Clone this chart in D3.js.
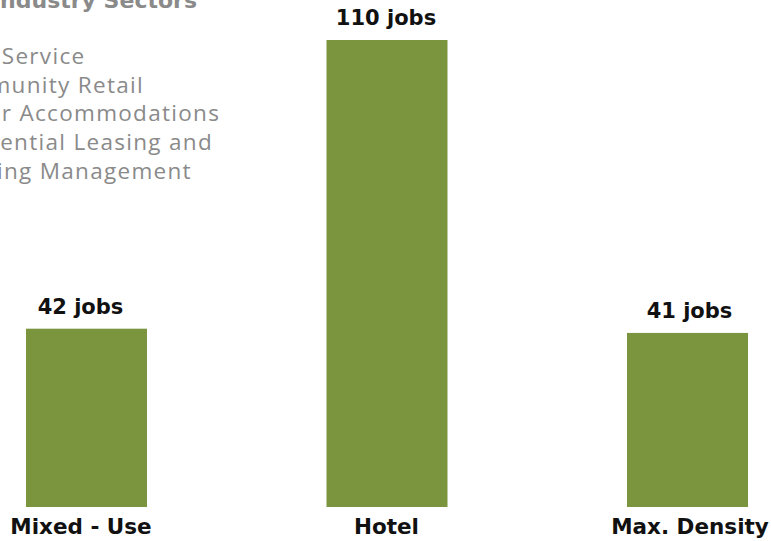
<!DOCTYPE html>
<html>
<head>
<meta charset="utf-8">
<script src="https://cdn.jsdelivr.net/npm/d3@7"></script>
<style>
  html, body { margin: 0; padding: 0; background: #fff; }
  svg { display: block; }
</style>
</head>
<body>
<script>
// Jobs supported per development scenario
const categories = ["Mixed - Use", "Hotel", "Max. Density"];
const jobs = [42, 110, 41];
const valueLabels = ["42 jobs", "110 jobs", "41 jobs"];

// Industry sectors list shown in the upper left
const sectorTitle = "Key Industry Sectors";
const sectors = [
  "Food Service",
  "Community Retail",
  "Visitor Accommodations",
  "Residential Leasing and",
  "Building Management"
];

const W = 771, H = 541;
const svg = d3.select("body").append("svg")
  .attr("width", W).attr("height", H);

const x = d3.scalePoint().domain(categories).range([86.5, 687.5]);
const y = d3.scaleLinear().domain([0, 110]).range([507, 40]);
const barW = 121;
const green = "#7a953d";
const boldFont = "'DejaVu Sans', sans-serif";
const textFont = "'Open Sans', sans-serif";
const labelShift = [-6, -1, 2];

// Sector list, partly running off the left edge
const legendX = -63;
const legend = svg.append("g").attr("transform", `translate(${legendX},0)`);
legend.append("text")
  .attr("x", 197 - legendX).attr("y", 8)
  .attr("text-anchor", "end")
  .attr("font-family", boldFont).attr("font-weight", "bold")
  .attr("font-size", 22).attr("fill", "#8a8a8a")
  .text(sectorTitle);
legend.selectAll("text.sector").data(sectors).join("text")
  .attr("class", "sector")
  .attr("x", 0)
  .attr("y", (d, i) => 64 + i * 28.7)
  .attr("font-family", textFont)
  .attr("font-size", 22.5).attr("letter-spacing", 1.3)
  .attr("fill", "#8a8a8a")
  .text(d => d);

// Bars
const data = categories.map((c, i) => ({ c, v: jobs[i], label: valueLabels[i] }));
svg.selectAll("rect.bar").data(data).join("rect")
  .attr("class", "bar")
  .attr("x", d => x(d.c) - barW / 2)
  .attr("y", d => y(d.v))
  .attr("width", barW)
  .attr("height", d => y(0) - y(d.v))
  .attr("fill", green);

// Value labels
svg.selectAll("text.value").data(data).join("text")
  .attr("class", "value")
  .attr("x", (d, i) => x(d.c) + labelShift[i])
  .attr("y", d => y(d.v) - 15)
  .attr("text-anchor", "middle")
  .attr("font-family", boldFont).attr("font-weight", "bold")
  .attr("font-size", 21).attr("fill", "#111")
  .text(d => d.label);

// Category axis labels
const xAxis = d3.axisBottom(x).tickSize(0).tickPadding(0);
const ax = svg.append("g").attr("transform", `translate(0,${y(0)})`).call(xAxis);
ax.select(".domain").remove();
ax.selectAll("text")
  .attr("y", 27).attr("dy", 0)
  .attr("dx", (d, i) => labelShift[i])
  .attr("font-family", boldFont).attr("font-weight", "bold")
  .attr("font-size", 21.5).attr("fill", "#111");
</script>
</body>
</html>
